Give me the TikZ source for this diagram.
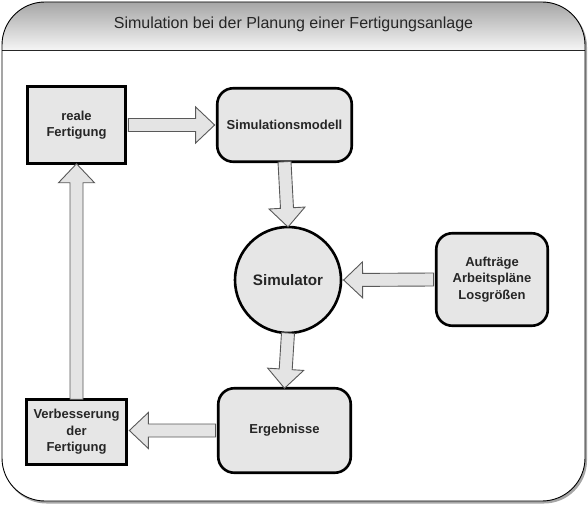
\documentclass[tikz,border=0pt]{standalone}
\usepackage{fontspec}
\setmainfont{Liberation Sans}
\usetikzlibrary{calc}
\definecolor{boxfill}{HTML}{E6E6E6}
\definecolor{arrfill}{HTML}{E4E4E4}
\definecolor{txt}{HTML}{262626}
\tikzset{
  box/.style={draw=black, line width=2.6bp, fill=boxfill, align=center, text=txt,
    font=\fontsize{13bp}{16.5bp}\selectfont\bfseries, inner sep=0pt},
  rbox/.style={box, rounded corners=16bp},
  barrow/.style={draw=black!65, line width=0.9bp, fill=arrfill, line join=miter},
  frame/.style={rounded corners=43bp},
}
\newcommand\blockarrow[2]{%
  \draw[barrow]
    ($(#1)!6.5bp!90:(#2)$) --
    ($($(#2)!19bp!(#1)$)!6.5bp!-90:(#1)$) --
    ($($(#2)!19bp!(#1)$)!18bp!-90:(#1)$) --
    (#2) --
    ($($(#2)!19bp!(#1)$)!18bp!90:(#1)$) --
    ($($(#2)!19bp!(#1)$)!6.5bp!90:(#1)$) --
    ($(#1)!6.5bp!-90:(#2)$) -- cycle;}
\begin{document}
\begin{tikzpicture}[x=1bp, y=-1bp]
\useasboundingbox (0,0) rectangle (588,505);
% frame shadow and frame
\fill[gray!70, frame] (3.5,4) rectangle (587,503.5);
\fill[white, frame] (2,2) rectangle (585,501);
\begin{scope}
  \clip[frame] (2,2) rectangle (585,501);
  \shade[top color=black!35, bottom color=black!4] (2,2) rectangle (585,50);
\end{scope}
\draw[black!85, line width=0.9bp] (2,50) -- (585,50);
\draw[black, line width=0.9bp, frame] (2,2) rectangle (585,501);
\node[font=\fontsize{16bp}{19bp}\selectfont, text=txt] (title) at (293.5,24.5) {Simulation bei der Planung einer Fertigungsanlage};

% nodes
\node[box, minimum width=98.5bp, minimum height=77.5bp] (reale) at (76.5,125) {reale\\Fertigung};
\node[rbox, minimum width=134.5bp, minimum height=73.5bp] (model) at (284.5,125) {Simulationsmodell};
\node[box, circle, minimum size=106bp, font=\fontsize{15.2bp}{18bp}\selectfont\bfseries] (sim) at (288,280) {Simulator};
\node[rbox, minimum width=111.5bp, minimum height=92.5bp] (auf) at (492,279.5) {Aufträge\\Arbeitspläne\\Losgrößen};
\node[rbox, minimum width=132.5bp, minimum height=84.5bp] (erg) at (284.5,430.5) {Ergebnisse};
\node[box, minimum width=100.5bp, minimum height=65.5bp] (verb) at (76.5,432) {Verbesserung\\der\\Fertigung};

% connector end points
\coordinate (a1) at ($(reale.east)+(1.3bp,0)$);
\coordinate (b1) at ($(model.west |- a1)-(1.3bp,0)$);
\coordinate (a2) at ($(model.south)+(0,1.3bp)$);
\coordinate (b2) at ($(sim.north)-(0,1.3bp)$);
\coordinate (a3) at ($(auf.west)-(1.3bp,0)$);
\coordinate (b3) at ($(sim.east)+(1.3bp,0)$);
\coordinate (a4) at ($(sim.south)+(0,1.3bp)$);
\coordinate (b4) at ($(erg.north)-(0,1.3bp)$);
\coordinate (a5) at ($(erg.west)-(1.3bp,0)$);
\coordinate (b5) at ($(verb.east |- a5)+(1.3bp,0)$);
\coordinate (a6) at ($(verb.north)-(0,1.3bp)$);
\coordinate (b6) at ($(reale.south)+(0,1.3bp)$);

\blockarrow{a1}{b1}
\blockarrow{a2}{b2}
\blockarrow{a3}{b3}
\blockarrow{a4}{b4}
\blockarrow{a5}{b5}
\blockarrow{a6}{b6}
\end{tikzpicture}
\end{document}
